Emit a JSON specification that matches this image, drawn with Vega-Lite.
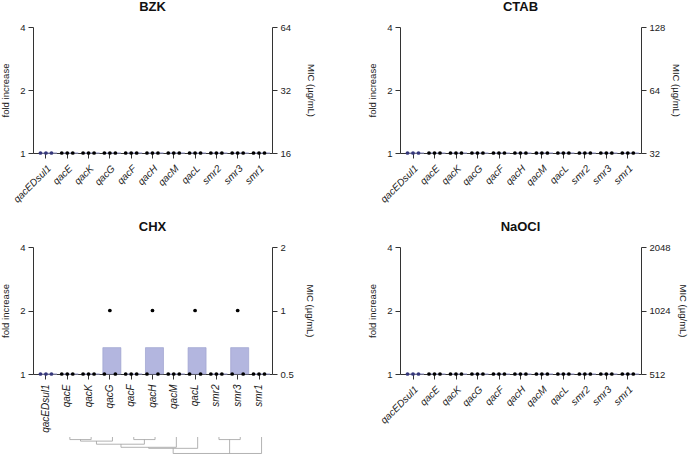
{
  "$schema": "https://vega.github.io/schema/vega-lite/v6.json",
  "description": "Fold increase in MIC per gene for four biocides, with a gene dendrogram under CHX.",
  "padding": {"left": 0, "top": 1, "right": 0, "bottom": 0},
  "datasets": {
    "mic": [
      {"panel": "BZK", "gene": "qacEDsul1", "rep": -1, "fold": 1, "mic": 16}, {"panel": "BZK", "gene": "qacEDsul1", "rep": 0, "fold": 1, "mic": 16}, {"panel": "BZK", "gene": "qacEDsul1", "rep": 1, "fold": 1, "mic": 16},
      {"panel": "BZK", "gene": "qacE", "rep": -1, "fold": 1, "mic": 16}, {"panel": "BZK", "gene": "qacE", "rep": 0, "fold": 1, "mic": 16}, {"panel": "BZK", "gene": "qacE", "rep": 1, "fold": 1, "mic": 16},
      {"panel": "BZK", "gene": "qacK", "rep": -1, "fold": 1, "mic": 16}, {"panel": "BZK", "gene": "qacK", "rep": 0, "fold": 1, "mic": 16}, {"panel": "BZK", "gene": "qacK", "rep": 1, "fold": 1, "mic": 16},
      {"panel": "BZK", "gene": "qacG", "rep": -1, "fold": 1, "mic": 16}, {"panel": "BZK", "gene": "qacG", "rep": 0, "fold": 1, "mic": 16}, {"panel": "BZK", "gene": "qacG", "rep": 1, "fold": 1, "mic": 16},
      {"panel": "BZK", "gene": "qacF", "rep": -1, "fold": 1, "mic": 16}, {"panel": "BZK", "gene": "qacF", "rep": 0, "fold": 1, "mic": 16}, {"panel": "BZK", "gene": "qacF", "rep": 1, "fold": 1, "mic": 16},
      {"panel": "BZK", "gene": "qacH", "rep": -1, "fold": 1, "mic": 16}, {"panel": "BZK", "gene": "qacH", "rep": 0, "fold": 1, "mic": 16}, {"panel": "BZK", "gene": "qacH", "rep": 1, "fold": 1, "mic": 16},
      {"panel": "BZK", "gene": "qacM", "rep": -1, "fold": 1, "mic": 16}, {"panel": "BZK", "gene": "qacM", "rep": 0, "fold": 1, "mic": 16}, {"panel": "BZK", "gene": "qacM", "rep": 1, "fold": 1, "mic": 16},
      {"panel": "BZK", "gene": "qacL", "rep": -1, "fold": 1, "mic": 16}, {"panel": "BZK", "gene": "qacL", "rep": 0, "fold": 1, "mic": 16}, {"panel": "BZK", "gene": "qacL", "rep": 1, "fold": 1, "mic": 16},
      {"panel": "BZK", "gene": "smr2", "rep": -1, "fold": 1, "mic": 16}, {"panel": "BZK", "gene": "smr2", "rep": 0, "fold": 1, "mic": 16}, {"panel": "BZK", "gene": "smr2", "rep": 1, "fold": 1, "mic": 16},
      {"panel": "BZK", "gene": "smr3", "rep": -1, "fold": 1, "mic": 16}, {"panel": "BZK", "gene": "smr3", "rep": 0, "fold": 1, "mic": 16}, {"panel": "BZK", "gene": "smr3", "rep": 1, "fold": 1, "mic": 16},
      {"panel": "BZK", "gene": "smr1", "rep": -1, "fold": 1, "mic": 16}, {"panel": "BZK", "gene": "smr1", "rep": 0, "fold": 1, "mic": 16}, {"panel": "BZK", "gene": "smr1", "rep": 1, "fold": 1, "mic": 16},

      {"panel": "CTAB", "gene": "qacEDsul1", "rep": -1, "fold": 1, "mic": 32}, {"panel": "CTAB", "gene": "qacEDsul1", "rep": 0, "fold": 1, "mic": 32}, {"panel": "CTAB", "gene": "qacEDsul1", "rep": 1, "fold": 1, "mic": 32},
      {"panel": "CTAB", "gene": "qacE", "rep": -1, "fold": 1, "mic": 32}, {"panel": "CTAB", "gene": "qacE", "rep": 0, "fold": 1, "mic": 32}, {"panel": "CTAB", "gene": "qacE", "rep": 1, "fold": 1, "mic": 32},
      {"panel": "CTAB", "gene": "qacK", "rep": -1, "fold": 1, "mic": 32}, {"panel": "CTAB", "gene": "qacK", "rep": 0, "fold": 1, "mic": 32}, {"panel": "CTAB", "gene": "qacK", "rep": 1, "fold": 1, "mic": 32},
      {"panel": "CTAB", "gene": "qacG", "rep": -1, "fold": 1, "mic": 32}, {"panel": "CTAB", "gene": "qacG", "rep": 0, "fold": 1, "mic": 32}, {"panel": "CTAB", "gene": "qacG", "rep": 1, "fold": 1, "mic": 32},
      {"panel": "CTAB", "gene": "qacF", "rep": -1, "fold": 1, "mic": 32}, {"panel": "CTAB", "gene": "qacF", "rep": 0, "fold": 1, "mic": 32}, {"panel": "CTAB", "gene": "qacF", "rep": 1, "fold": 1, "mic": 32},
      {"panel": "CTAB", "gene": "qacH", "rep": -1, "fold": 1, "mic": 32}, {"panel": "CTAB", "gene": "qacH", "rep": 0, "fold": 1, "mic": 32}, {"panel": "CTAB", "gene": "qacH", "rep": 1, "fold": 1, "mic": 32},
      {"panel": "CTAB", "gene": "qacM", "rep": -1, "fold": 1, "mic": 32}, {"panel": "CTAB", "gene": "qacM", "rep": 0, "fold": 1, "mic": 32}, {"panel": "CTAB", "gene": "qacM", "rep": 1, "fold": 1, "mic": 32},
      {"panel": "CTAB", "gene": "qacL", "rep": -1, "fold": 1, "mic": 32}, {"panel": "CTAB", "gene": "qacL", "rep": 0, "fold": 1, "mic": 32}, {"panel": "CTAB", "gene": "qacL", "rep": 1, "fold": 1, "mic": 32},
      {"panel": "CTAB", "gene": "smr2", "rep": -1, "fold": 1, "mic": 32}, {"panel": "CTAB", "gene": "smr2", "rep": 0, "fold": 1, "mic": 32}, {"panel": "CTAB", "gene": "smr2", "rep": 1, "fold": 1, "mic": 32},
      {"panel": "CTAB", "gene": "smr3", "rep": -1, "fold": 1, "mic": 32}, {"panel": "CTAB", "gene": "smr3", "rep": 0, "fold": 1, "mic": 32}, {"panel": "CTAB", "gene": "smr3", "rep": 1, "fold": 1, "mic": 32},
      {"panel": "CTAB", "gene": "smr1", "rep": -1, "fold": 1, "mic": 32}, {"panel": "CTAB", "gene": "smr1", "rep": 0, "fold": 1, "mic": 32}, {"panel": "CTAB", "gene": "smr1", "rep": 1, "fold": 1, "mic": 32},

      {"panel": "CHX", "gene": "qacEDsul1", "rep": -1, "fold": 1, "mic": 0.5}, {"panel": "CHX", "gene": "qacEDsul1", "rep": 0, "fold": 1, "mic": 0.5}, {"panel": "CHX", "gene": "qacEDsul1", "rep": 1, "fold": 1, "mic": 0.5},
      {"panel": "CHX", "gene": "qacE", "rep": -1, "fold": 1, "mic": 0.5}, {"panel": "CHX", "gene": "qacE", "rep": 0, "fold": 1, "mic": 0.5}, {"panel": "CHX", "gene": "qacE", "rep": 1, "fold": 1, "mic": 0.5},
      {"panel": "CHX", "gene": "qacK", "rep": -1, "fold": 1, "mic": 0.5}, {"panel": "CHX", "gene": "qacK", "rep": 0, "fold": 1, "mic": 0.5}, {"panel": "CHX", "gene": "qacK", "rep": 1, "fold": 1, "mic": 0.5},
      {"panel": "CHX", "gene": "qacG", "rep": -1, "fold": 1, "mic": 0.5}, {"panel": "CHX", "gene": "qacG", "rep": 0, "fold": 2, "mic": 1}, {"panel": "CHX", "gene": "qacG", "rep": 1, "fold": 1, "mic": 0.5},
      {"panel": "CHX", "gene": "qacF", "rep": -1, "fold": 1, "mic": 0.5}, {"panel": "CHX", "gene": "qacF", "rep": 0, "fold": 1, "mic": 0.5}, {"panel": "CHX", "gene": "qacF", "rep": 1, "fold": 1, "mic": 0.5},
      {"panel": "CHX", "gene": "qacH", "rep": -1, "fold": 1, "mic": 0.5}, {"panel": "CHX", "gene": "qacH", "rep": 0, "fold": 2, "mic": 1}, {"panel": "CHX", "gene": "qacH", "rep": 1, "fold": 1, "mic": 0.5},
      {"panel": "CHX", "gene": "qacM", "rep": -1, "fold": 1, "mic": 0.5}, {"panel": "CHX", "gene": "qacM", "rep": 0, "fold": 1, "mic": 0.5}, {"panel": "CHX", "gene": "qacM", "rep": 1, "fold": 1, "mic": 0.5},
      {"panel": "CHX", "gene": "qacL", "rep": -1, "fold": 1, "mic": 0.5}, {"panel": "CHX", "gene": "qacL", "rep": 0, "fold": 2, "mic": 1}, {"panel": "CHX", "gene": "qacL", "rep": 1, "fold": 1, "mic": 0.5},
      {"panel": "CHX", "gene": "smr2", "rep": -1, "fold": 1, "mic": 0.5}, {"panel": "CHX", "gene": "smr2", "rep": 0, "fold": 1, "mic": 0.5}, {"panel": "CHX", "gene": "smr2", "rep": 1, "fold": 1, "mic": 0.5},
      {"panel": "CHX", "gene": "smr3", "rep": -1, "fold": 1, "mic": 0.5}, {"panel": "CHX", "gene": "smr3", "rep": 0, "fold": 2, "mic": 1}, {"panel": "CHX", "gene": "smr3", "rep": 1, "fold": 1, "mic": 0.5},
      {"panel": "CHX", "gene": "smr1", "rep": -1, "fold": 1, "mic": 0.5}, {"panel": "CHX", "gene": "smr1", "rep": 0, "fold": 1, "mic": 0.5}, {"panel": "CHX", "gene": "smr1", "rep": 1, "fold": 1, "mic": 0.5},

      {"panel": "NaOCl", "gene": "qacEDsul1", "rep": -1, "fold": 1, "mic": 512}, {"panel": "NaOCl", "gene": "qacEDsul1", "rep": 0, "fold": 1, "mic": 512}, {"panel": "NaOCl", "gene": "qacEDsul1", "rep": 1, "fold": 1, "mic": 512},
      {"panel": "NaOCl", "gene": "qacE", "rep": -1, "fold": 1, "mic": 512}, {"panel": "NaOCl", "gene": "qacE", "rep": 0, "fold": 1, "mic": 512}, {"panel": "NaOCl", "gene": "qacE", "rep": 1, "fold": 1, "mic": 512},
      {"panel": "NaOCl", "gene": "qacK", "rep": -1, "fold": 1, "mic": 512}, {"panel": "NaOCl", "gene": "qacK", "rep": 0, "fold": 1, "mic": 512}, {"panel": "NaOCl", "gene": "qacK", "rep": 1, "fold": 1, "mic": 512},
      {"panel": "NaOCl", "gene": "qacG", "rep": -1, "fold": 1, "mic": 512}, {"panel": "NaOCl", "gene": "qacG", "rep": 0, "fold": 1, "mic": 512}, {"panel": "NaOCl", "gene": "qacG", "rep": 1, "fold": 1, "mic": 512},
      {"panel": "NaOCl", "gene": "qacF", "rep": -1, "fold": 1, "mic": 512}, {"panel": "NaOCl", "gene": "qacF", "rep": 0, "fold": 1, "mic": 512}, {"panel": "NaOCl", "gene": "qacF", "rep": 1, "fold": 1, "mic": 512},
      {"panel": "NaOCl", "gene": "qacH", "rep": -1, "fold": 1, "mic": 512}, {"panel": "NaOCl", "gene": "qacH", "rep": 0, "fold": 1, "mic": 512}, {"panel": "NaOCl", "gene": "qacH", "rep": 1, "fold": 1, "mic": 512},
      {"panel": "NaOCl", "gene": "qacM", "rep": -1, "fold": 1, "mic": 512}, {"panel": "NaOCl", "gene": "qacM", "rep": 0, "fold": 1, "mic": 512}, {"panel": "NaOCl", "gene": "qacM", "rep": 1, "fold": 1, "mic": 512},
      {"panel": "NaOCl", "gene": "qacL", "rep": -1, "fold": 1, "mic": 512}, {"panel": "NaOCl", "gene": "qacL", "rep": 0, "fold": 1, "mic": 512}, {"panel": "NaOCl", "gene": "qacL", "rep": 1, "fold": 1, "mic": 512},
      {"panel": "NaOCl", "gene": "smr2", "rep": -1, "fold": 1, "mic": 512}, {"panel": "NaOCl", "gene": "smr2", "rep": 0, "fold": 1, "mic": 512}, {"panel": "NaOCl", "gene": "smr2", "rep": 1, "fold": 1, "mic": 512},
      {"panel": "NaOCl", "gene": "smr3", "rep": -1, "fold": 1, "mic": 512}, {"panel": "NaOCl", "gene": "smr3", "rep": 0, "fold": 1, "mic": 512}, {"panel": "NaOCl", "gene": "smr3", "rep": 1, "fold": 1, "mic": 512},
      {"panel": "NaOCl", "gene": "smr1", "rep": -1, "fold": 1, "mic": 512}, {"panel": "NaOCl", "gene": "smr1", "rep": 0, "fold": 1, "mic": 512}, {"panel": "NaOCl", "gene": "smr1", "rep": 1, "fold": 1, "mic": 512}
    ],
    "tree": [
      {"x": 1, "x2": 1, "y": 0, "y2": 2.5},
      {"x": 2, "x2": 2, "y": 0, "y2": 2.5},
      {"x": 1, "x2": 2, "y": 2.5, "y2": 2.5},
      {"x": 1.5, "x2": 1.5, "y": 2.5, "y2": 4},
      {"x": 3, "x2": 3, "y": 0, "y2": 4},
      {"x": 1.5, "x2": 3, "y": 4, "y2": 4},
      {"x": 2.25, "x2": 2.25, "y": 4, "y2": 7},
      {"x": 4, "x2": 4, "y": 0, "y2": 2.5},
      {"x": 5, "x2": 5, "y": 0, "y2": 2.5},
      {"x": 4, "x2": 5, "y": 2.5, "y2": 2.5},
      {"x": 4.5, "x2": 4.5, "y": 2.5, "y2": 7},
      {"x": 2.25, "x2": 4.5, "y": 7, "y2": 7},
      {"x": 3.4, "x2": 3.4, "y": 7, "y2": 10},
      {"x": 6, "x2": 6, "y": 0, "y2": 10},
      {"x": 3.4, "x2": 6, "y": 10, "y2": 10},
      {"x": 4.7, "x2": 4.7, "y": 10, "y2": 11},
      {"x": 7, "x2": 7, "y": 0, "y2": 11},
      {"x": 4.7, "x2": 7, "y": 11, "y2": 11},
      {"x": 5.85, "x2": 5.85, "y": 11, "y2": 16},
      {"x": 8, "x2": 8, "y": 0, "y2": 2.5},
      {"x": 9, "x2": 9, "y": 0, "y2": 2.5},
      {"x": 8, "x2": 9, "y": 2.5, "y2": 2.5},
      {"x": 8.5, "x2": 8.5, "y": 2.5, "y2": 16},
      {"x": 10, "x2": 10, "y": 0, "y2": 16},
      {"x": 5.85, "x2": 10, "y": 16, "y2": 16}
    ]
  },
  "data": {"name": "mic"},
  "columns": 2,
  "bounds": "flush",
  "spacing": {"column": 128, "row": 94},
  "concat": [
    {
      "title": "BZK",
      "width": 239, "height": 126,
      "transform": [{"filter": "datum.panel === 'BZK'"}],
      "encoding": {
        "x": {"field": "gene", "type": "nominal", "sort": ["qacEDsul1", "qacE", "qacK", "qacG", "qacF", "qacH", "qacM", "qacL", "smr2", "smr3", "smr1"],
              "scale": {"paddingInner": 0.34, "paddingOuter": 0.28}, "axis": {"title": null, "labelAngle": -45}}
      },
      "layer": [
        {"mark": {"type": "bar", "fill": "#b3b6df", "stroke": "#9ea2cf", "strokeWidth": 0.7},
         "encoding": {"y": {"aggregate": "mean", "field": "fold", "type": "quantitative", "scale": {"type": "log", "base": 2, "domain": [1, 4]},
                            "axis": {"values": [1, 2, 4], "format": "~g", "title": "fold increase"}}}},
        {"mark": {"type": "point", "filled": true, "size": 14, "opacity": 1},
         "encoding": {"y": {"field": "fold", "type": "quantitative", "scale": {"type": "log", "base": 2, "domain": [1, 4]}, "axis": null},
                      "xOffset": {"field": "rep", "type": "quantitative", "scale": {"domain": [-1, 1], "range": [1.5, 12.5]}},
                      "color": {"condition": {"test": "datum.gene === 'qacEDsul1'", "value": "#35377a"}, "value": "#000000"}}},
        {"mark": {"type": "point", "opacity": 0},
         "encoding": {"y": {"field": "mic", "type": "quantitative", "scale": {"type": "log", "base": 2, "domain": [16, 64]},
                            "axis": {"orient": "right", "values": [16, 32, 64], "format": "~g", "title": "MIC (µg/mL)", "titlePadding": 15}}}}
      ],
      "resolve": {"scale": {"y": "independent"}}
    },
    {
      "title": "CTAB",
      "width": 241, "height": 126,
      "transform": [{"filter": "datum.panel === 'CTAB'"}],
      "encoding": {
        "x": {"field": "gene", "type": "nominal", "sort": ["qacEDsul1", "qacE", "qacK", "qacG", "qacF", "qacH", "qacM", "qacL", "smr2", "smr3", "smr1"],
              "scale": {"paddingInner": 0.34, "paddingOuter": 0.28}, "axis": {"title": null, "labelAngle": -45}}
      },
      "layer": [
        {"mark": {"type": "bar", "fill": "#b3b6df", "stroke": "#9ea2cf", "strokeWidth": 0.7},
         "encoding": {"y": {"aggregate": "mean", "field": "fold", "type": "quantitative", "scale": {"type": "log", "base": 2, "domain": [1, 4]},
                            "axis": {"values": [1, 2, 4], "format": "~g", "title": "fold increase"}}}},
        {"mark": {"type": "point", "filled": true, "size": 14, "opacity": 1},
         "encoding": {"y": {"field": "fold", "type": "quantitative", "scale": {"type": "log", "base": 2, "domain": [1, 4]}, "axis": null},
                      "xOffset": {"field": "rep", "type": "quantitative", "scale": {"domain": [-1, 1], "range": [1.6, 12.6]}},
                      "color": {"condition": {"test": "datum.gene === 'qacEDsul1'", "value": "#35377a"}, "value": "#000000"}}},
        {"mark": {"type": "point", "opacity": 0},
         "encoding": {"y": {"field": "mic", "type": "quantitative", "scale": {"type": "log", "base": 2, "domain": [32, 128]},
                            "axis": {"orient": "right", "values": [32, 64, 128], "format": "~g", "title": "MIC (µg/mL)", "titlePadding": 6}}}}
      ],
      "resolve": {"scale": {"y": "independent"}}
    },
    {
      "spacing": 63,
      "bounds": "flush",
      "vconcat": [
        {
          "title": "CHX",
          "width": 239, "height": 127,
          "transform": [{"filter": "datum.panel === 'CHX'"}],
          "encoding": {
            "x": {"field": "gene", "type": "nominal", "sort": ["qacEDsul1", "qacE", "qacK", "qacG", "qacF", "qacH", "qacM", "qacL", "smr2", "smr3", "smr1"],
                  "scale": {"paddingInner": 0.34, "paddingOuter": 0.28}, "axis": {"title": null, "labelAngle": -90}}
          },
          "layer": [
            {"mark": {"type": "bar", "fill": "#b3b6df", "stroke": "#9ea2cf", "strokeWidth": 0.7},
             "encoding": {"y": {"aggregate": "mean", "field": "fold", "type": "quantitative", "scale": {"type": "log", "base": 2, "domain": [1, 4]},
                                "axis": {"values": [1, 2, 4], "format": "~g", "title": "fold increase"}}}},
            {"mark": {"type": "point", "filled": true, "size": 14, "opacity": 1},
             "encoding": {"y": {"field": "fold", "type": "quantitative", "scale": {"type": "log", "base": 2, "domain": [1, 4]}, "axis": null},
                          "xOffset": {"field": "rep", "type": "quantitative", "scale": {"domain": [-1, 1], "range": [1.5, 12.5]}},
                          "color": {"condition": {"test": "datum.gene === 'qacEDsul1'", "value": "#35377a"}, "value": "#000000"}}},
            {"mark": {"type": "point", "opacity": 0},
             "encoding": {"y": {"field": "mic", "type": "quantitative", "scale": {"type": "log", "base": 2, "domain": [0.5, 2]},
                                "axis": {"orient": "right", "values": [0.5, 1, 2], "format": "~g", "title": "MIC (µg/mL)", "titlePadding": 11}}}}
          ],
          "resolve": {"scale": {"y": "independent"}}
        },
        {
          "width": 239, "height": 17,
          "data": {"name": "tree"},
          "mark": {"type": "rule", "color": "#a0a0a0", "strokeWidth": 0.8},
          "encoding": {
            "x": {"field": "x", "type": "quantitative", "scale": {"domain": [-0.73, 10.49], "nice": false, "zero": false}, "axis": null},
            "x2": {"field": "x2"},
            "y": {"field": "y", "type": "quantitative", "scale": {"domain": [0, 16.5], "reverse": true, "nice": false}, "axis": null},
            "y2": {"field": "y2"}
          }
        }
      ]
    },
    {
      "title": "NaOCl",
      "width": 241, "height": 127,
      "transform": [{"filter": "datum.panel === 'NaOCl'"}],
      "encoding": {
        "x": {"field": "gene", "type": "nominal", "sort": ["qacEDsul1", "qacE", "qacK", "qacG", "qacF", "qacH", "qacM", "qacL", "smr2", "smr3", "smr1"],
              "scale": {"paddingInner": 0.34, "paddingOuter": 0.28}, "axis": {"title": null, "labelAngle": -45}}
      },
      "layer": [
        {"mark": {"type": "bar", "fill": "#b3b6df", "stroke": "#9ea2cf", "strokeWidth": 0.7},
         "encoding": {"y": {"aggregate": "mean", "field": "fold", "type": "quantitative", "scale": {"type": "log", "base": 2, "domain": [1, 4]},
                            "axis": {"values": [1, 2, 4], "format": "~g", "title": "fold increase"}}}},
        {"mark": {"type": "point", "filled": true, "size": 14, "opacity": 1},
         "encoding": {"y": {"field": "fold", "type": "quantitative", "scale": {"type": "log", "base": 2, "domain": [1, 4]}, "axis": null},
                      "xOffset": {"field": "rep", "type": "quantitative", "scale": {"domain": [-1, 1], "range": [1.6, 12.6]}},
                      "color": {"condition": {"test": "datum.gene === 'qacEDsul1'", "value": "#35377a"}, "value": "#000000"}}},
        {"mark": {"type": "point", "opacity": 0},
         "encoding": {"y": {"field": "mic", "type": "quantitative", "scale": {"type": "log", "base": 2, "domain": [512, 2048]},
                            "axis": {"orient": "right", "values": [512, 1024, 2048], "format": "~g", "title": "MIC (µg/mL)", "titlePadding": 7}}}}
      ],
      "resolve": {"scale": {"y": "independent"}}
    }
  ],
  "config": {
    "font": "Liberation Sans",
    "view": {"stroke": null},
    "title": {"fontSize": 13, "fontWeight": "bold", "color": "#111111", "frame": "group", "offset": 8},
    "axis": {
      "grid": false, "domainColor": "#333333", "tickColor": "#333333", "labelColor": "#222222", "titleColor": "#222222",
      "labelFontSize": 9.5, "titleFontSize": 9.5, "titleFontWeight": "normal", "tickSize": 5, "labelPadding": 3, "titlePadding": 9
    },
    "axisX": {"labelFontStyle": "italic", "labelFontSize": 10, "labelPadding": 5}
  }
}
